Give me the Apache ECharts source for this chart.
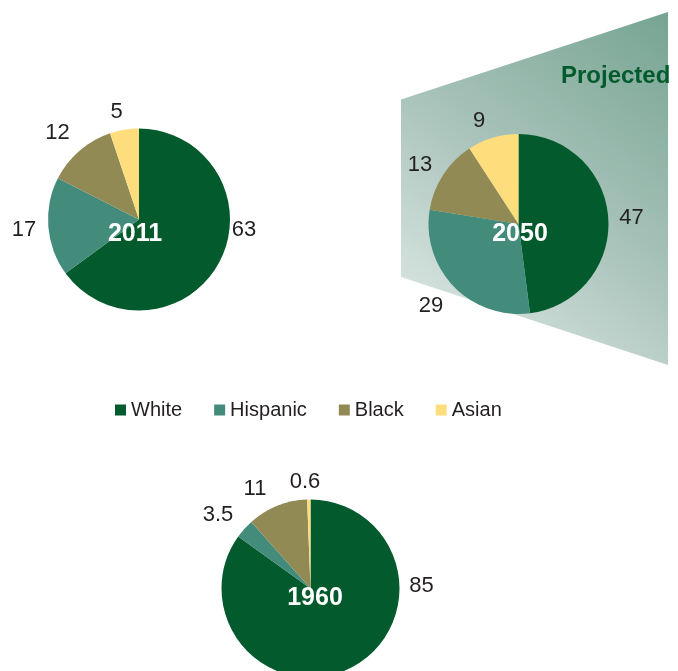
<!DOCTYPE html>
<html>
<head>
<meta charset="utf-8">
<script src="https://cdn.jsdelivr.net/npm/echarts@6/dist/echarts.min.js"></script>
<style>
html,body{margin:0;padding:0;background:#fff;}
#chart{width:678px;height:671px;}
</style>
</head>
<body>
<div id="chart"></div>
<script>
// ---- data ----
var categories = ['White', 'Hispanic', 'Black', 'Asian'];
var values2011 = [63, 17, 12, 5];
var values2050 = [47, 29, 13, 9];
var values1960 = [85, 3.5, 11, 0.6];
var years = ['2011', '2050', '1960'];
var projectedLabel = 'Projected';

// ---- layout / styles ----
var colors = ['#035b2d', '#438b7b', '#928a55', '#fede7c'];
var pieCenters = [[139, 219.5], [518.5, 224], [310.5, 588.5]];
var pieRadii = [91, 90, 89];
var yearTextPos = [[135, 234], [520, 234], [315, 598]];
var labelPos = [
  [[244, 230], [24, 230], [57.5, 133], [116.5, 111.5]],
  [[631.5, 217.5], [431, 305.5], [420, 164.5], [479, 120.5]],
  [[421.5, 585.5], [218, 514.5], [255, 489], [305, 482]]
];
var font = '"Liberation Sans", Arial, sans-serif';
var textColor = '#231f20';

function buildData(vals) {
  return categories.map(function (c, i) { return { name: c, value: vals[i] }; });
}
var allValues = [values2011, values2050, values1960];

var series = allValues.map(function (vals, s) {
  return {
    type: 'pie',
    name: years[s],
    center: pieCenters[s],
    radius: [0, pieRadii[s]],
    startAngle: 90,
    clockwise: true,
    avoidLabelOverlap: false,
    silent: true,
    data: buildData(vals),
    itemStyle: { borderWidth: 0 },
    label: {
      show: true,
      position: 'outside',
      formatter: function (p) { return String(p.value); },
      fontSize: 22,
      fontFamily: font,
      color: textColor
    },
    labelLine: { show: false },
    labelLayout: function (params) {
      var pos = labelPos[s][params.dataIndex];
      return { x: pos[0], y: pos[1], align: 'center', verticalAlign: 'middle' };
    },
    z: 5
  };
});

var chart = echarts.init(document.getElementById('chart'), null, { renderer: 'canvas' });
chart.setOption({
  animation: false,
  color: colors,
  legend: {
    data: categories,
    left: 110,
    top: 395,
    icon: 'rect',
    itemWidth: 11,
    itemHeight: 11,
    itemGap: 32,
    selectedMode: false,
    textStyle: { fontSize: 20, fontFamily: font, color: textColor }
  },
  graphic: [
    {
      type: 'polygon',
      z: 0,
      silent: true,
      shape: { points: [[401, 99.5], [668, 12], [668, 365], [401, 277]] },
      style: {
        fill: new echarts.graphic.LinearGradient(1, 0, 0, 1, [
          { offset: 0, color: '#76a492' },
          { offset: 0.5, color: '#aac4bb' },
          { offset: 1, color: '#e6eeeb' }
        ])
      }
    },
    {
      type: 'text',
      z: 10,
      silent: true,
      x: 561,
      y: 76,
      style: {
        text: projectedLabel,
        fontSize: 24,
        fontWeight: 'bold',
        fontFamily: font,
        fill: '#035b2d',
        textVerticalAlign: 'middle'
      }
    }
  ].concat(years.map(function (y, i) {
    return {
      type: 'text',
      z: 100,
      silent: true,
      x: yearTextPos[i][0],
      y: yearTextPos[i][1],
      style: {
        text: y,
        fontSize: 25,
        fontWeight: 'bold',
        fontFamily: font,
        fill: '#ffffff',
        textAlign: 'center',
        textVerticalAlign: 'middle'
      }
    };
  })),
  series: series
});
</script>
</body>
</html>
